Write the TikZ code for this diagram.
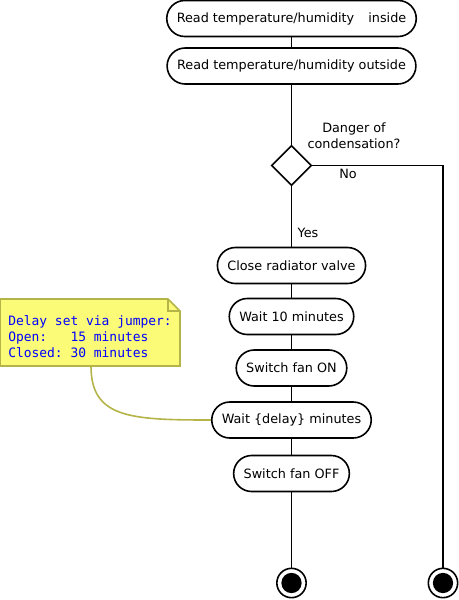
\documentclass[tikz,border=0pt]{standalone}
\usepackage{fontspec}
\setmainfont{DejaVu Sans}
\setmonofont{DejaVu Sans Mono}
\usetikzlibrary{shapes.geometric,positioning}

\definecolor{notefill}{RGB}{251,251,119}
\definecolor{noteedge}{RGB}{180,180,72}

\begin{document}
\begin{tikzpicture}[
    x=0.75pt, y=-0.75pt,
    flow/.style={line width=1.2pt},
    action/.style={draw, line width=1.2pt, fill=white, rounded corners=13.5pt,
                   minimum height=27pt, inner xsep=7.5pt, font=\fontsize{9.6}{11}\selectfont},
    decision/.style={draw, diamond, line width=1.2pt, fill=white, minimum size=30pt, inner sep=0pt},
    finish/.style={draw, circle, line width=1.2pt, fill=white, minimum size=22pt, inner sep=0pt,
                   path picture={\fill[black] (path picture bounding box.center) circle (7.6pt);}},
    lbl/.style={font=\fontsize{9.6}{12}\selectfont, inner sep=1pt},
    notetext/.style={font=\ttfamily\fontsize{9.7}{12}\selectfont, text=blue, align=left, inner sep=0pt},
]
\useasboundingbox (0,0) rectangle (459,600);

% Actions
\node[action] (readin) at (291.5,18.5) {Read temperature/humidity\hspace{1.1em}inside};
\node[action] (readout) at (291.5,66) {Read temperature/humidity outside};
\node[decision] (check) at (291.5,165.5) {};
\node[action] (valve) at (291.5,265.5) {Close radiator valve};
\node[action] (wait1) at (291.5,316.5) {Wait 10 minutes};
\node[action] (fanon) at (291.5,368) {Switch fan ON};
\node[action] (wait2) at (291.5,420) {Wait \{delay\} minutes};
\node[action] (fanoff) at (291.5,473.5) {Switch fan OFF};

% End points
\node[finish] (stopyes) at (291.5,583) {};
\node[finish] (stopno) at (443,583) {};
\coordinate (turn) at (443,165.5);

% Flow
\draw[flow] (readin) -- (readout);
\draw[flow] (readout) -- (check);
\draw[flow] (check) -- (valve);
\draw[flow] (valve) -- (wait1);
\draw[flow] (wait1) -- (fanon);
\draw[flow] (fanon) -- (wait2);
\draw[flow] (wait2) -- (fanoff);
\draw[flow] (fanoff) -- (stopyes);
\draw[flow] (check.east) -- (turn) -- (stopno);

% Branch labels
\node[lbl, align=center] (question) at (354,136) {Danger of\\condensation?};
\node[lbl] (nolbl) at (348,174) {No};
\node[lbl] (yeslbl) at (308,232.5) {Yes};

% Note
\filldraw[fill=notefill, draw=noteedge, line width=1.2pt]
    (0,299) -- (168,299) -- (180,311) -- (180,366) -- (0,366) -- cycle;
\draw[noteedge, line width=1.2pt] (168,299) -- (168,311) -- (180,311);
\node[notetext, anchor=west] (note) at (8,337)
    {Delay set via jumper:\\Open:\ \ \ 15 minutes\\Closed: 30 minutes};
\coordinate (notefoot) at (91,366);
\draw[noteedge, line width=1.2pt] (notefoot) .. controls (91,418) and (130,420) .. (wait2.west);

\end{tikzpicture}
\end{document}
